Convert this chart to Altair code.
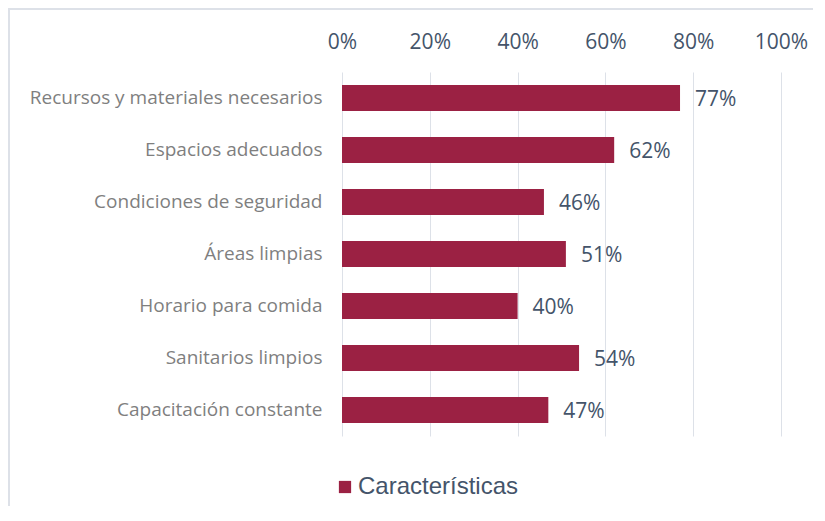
import altair as alt
import pandas as pd

categories = [
    "Recursos y materiales necesarios",
    "Espacios adecuados",
    "Condiciones de seguridad",
    "Áreas limpias",
    "Horario para comida",
    "Sanitarios limpios",
    "Capacitación constante",
]
values = [0.77, 0.62, 0.46, 0.51, 0.40, 0.54, 0.47]
series_name = "Características"

df = pd.DataFrame({"cat": categories, "val": values, "serie": [series_name] * len(values)})

FONT = "Open Sans"
BAR = "#9B2143"
TXT = "#44546A"

x = alt.X(
    "val:Q",
    scale=alt.Scale(domain=[0, 1], nice=False),
    axis=alt.Axis(
        orient="top", format="%", values=[0, 0.2, 0.4, 0.6, 0.8, 1.0],
        domain=False, ticks=False, labelPadding=20, labelFontSize=21,
        labelFlush=False, labelOverlap=False,
        labelColor=TXT, labelFont=FONT, gridColor="#DDE1E8", title=None,
    ),
)
y = alt.Y(
    "cat:N", sort=categories,
    scale=alt.Scale(paddingInner=0.5, paddingOuter=0.25),
    axis=alt.Axis(
        domain=False, ticks=False, labelPadding=20, labelFontSize=19,
        labelColor="#7F7F7F", labelFont=FONT, title=None, labelLimit=400,
    ),
)

bars = alt.Chart(df).mark_bar().encode(
    x=x, y=y,
    color=alt.Color(
        "serie:N", scale=alt.Scale(range=[BAR]),
        legend=alt.Legend(
            title=None, orient="none", legendX=-9, legendY=403,
            symbolType="square", symbolSize=150, symbolStrokeWidth=0,
            labelFontSize=24, labelColor=TXT, labelFont="Liberation Sans",
            labelOffset=1, labelLimit=400,
        ),
    ),
)

labels = alt.Chart(df).mark_text(
    align="left", baseline="middle", dx=15, dy=2, fontSize=21, color=TXT, font=FONT
).encode(x="val:Q", y=alt.Y("cat:N", sort=categories), text=alt.Text("val:Q", format=".0%"))

frame = alt.Chart(df).mark_rect(fill=None, stroke="#DDE1E8", strokeWidth=1.5).encode(
    x=alt.value(-333), x2=alt.value(600), y=alt.value(-63), y2=alt.value(600)
)

chart = alt.layer(frame, bars, labels).properties(
    width=439, height=364,
    autosize=alt.AutoSizeParams(type="none"),
    padding={"left": 334, "top": 64, "right": 32, "bottom": 70},
).configure_view(stroke=None)

chart.save("out.html", embed_options={"renderer": "svg", "actions": False})
